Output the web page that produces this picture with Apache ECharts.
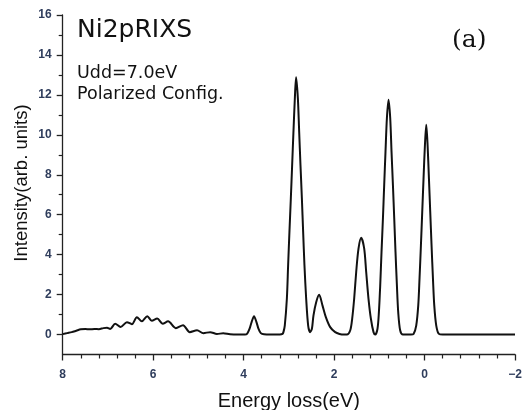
<!DOCTYPE html>
<html>
<head>
<meta charset="utf-8">
<script src="https://cdn.jsdelivr.net/npm/echarts@6/dist/echarts.min.js"></script>
<style>
html,body{margin:0;padding:0;background:#fff;}
#chart{width:525px;height:410px;}
</style>
</head>
<body>
<div id="chart"></div>
<script>
// Energy loss (eV)
var energyLoss = [
  8.00, 7.90, 7.80, 7.70, 7.60, 7.50, 7.40, 7.30, 7.20, 7.10, 7.02, 6.95,
  6.84, 6.72, 6.58, 6.47, 6.36, 6.25, 6.13, 6.03, 5.91, 5.79, 5.67, 5.50,
  5.34, 5.19, 5.03, 4.89, 4.74, 4.59, 4.45, 4.30, 4.10, 3.97,
  3.92, 3.87, 3.82, 3.77, 3.72, 3.67, 3.62, 3.55, 3.40, 3.20,
  3.14, 3.12, 3.09, 3.044, 3.016, 2.987, 2.956, 2.927, 2.898, 2.867, 2.84,
  2.801, 2.772, 2.743, 2.712, 2.684, 2.655, 2.617, 2.573, 2.53,
  2.49, 2.456, 2.396, 2.33, 2.257, 2.182, 2.086, 1.976, 1.88, 1.78,
  1.717, 1.644, 1.60, 1.556, 1.511, 1.46, 1.40, 1.334, 1.29, 1.239, 1.186, 1.128, 1.09,
  1.04, 1.009, 0.98, 0.951, 0.92, 0.892, 0.863, 0.832, 0.796,
  0.759, 0.73, 0.699, 0.67, 0.642, 0.611, 0.582, 0.538, 0.478,
  0.30, 0.243, 0.184, 0.139, 0.111, 0.08, 0.051, 0.022, -0.009, -0.038,
  -0.067, -0.097, -0.126, -0.155, -0.186, -0.215, -0.259, -0.318, -0.40, -2.00
];
// Intensity (arb. units)
var intensity = [
  0.02, 0.07, 0.12, 0.19, 0.26, 0.28, 0.26, 0.28, 0.27, 0.32, 0.34, 0.28,
  0.54, 0.38, 0.62, 0.52, 0.87, 0.66, 0.92, 0.69, 0.80, 0.54, 0.66, 0.32,
  0.47, 0.12, 0.21, 0.07, 0.12, 0.03, 0.06, 0.01, 0.00, 0.00,
  0.05, 0.28, 0.65, 0.92, 0.65, 0.28, 0.07, 0.01, 0.00, 0.00,
  0.03, 0.12, 0.45, 1.79, 3.47, 5.14, 6.82, 8.49, 10.17, 11.84, 12.88,
  11.84, 10.17, 8.49, 6.82, 5.14, 3.47, 1.79, 0.45, 0.12,
  0.29, 0.95, 1.62, 1.99, 1.46, 0.87, 0.37, 0.12, 0.03, 0.00,
  0.00, 0.20, 0.79, 1.79, 3.13, 4.30, 4.84, 4.30, 3.13, 1.79, 0.79, 0.12, 0.00,
  0.29, 1.12, 2.46, 4.14, 5.81, 7.49, 9.16, 10.84, 11.76,
  10.84, 9.16, 7.49, 5.81, 4.14, 2.46, 1.12, 0.20, 0.00,
  0.00, 0.03, 0.45, 1.46, 2.80, 4.47, 6.14, 7.82, 9.50, 10.50,
  9.50, 7.82, 6.14, 4.47, 2.80, 1.46, 0.45, 0.03, 0.00, 0.00
];
var yMajorTicks = [0, 2, 4, 6, 8, 10, 12, 14, 16];
var yMinorTicks = [1, 3, 5, 7, 9, 11, 13, 15];
var titleText = 'Ni2pRIXS';
var noteLines = ['Udd=7.0eV', 'Polarized Config.'];
var panelLabel = '(a)';
var xName = 'Energy loss(eV)';
var yName = 'Intensity(arb. units)';

var seriesData = energyLoss.map(function (e, i) { return [e, intensity[i]]; });
var tickColor = '#2f3d5c';
var labelFont = 'Liberation Sans';

var chart = echarts.init(document.getElementById('chart'), null, {renderer: 'canvas'});
chart.setOption({
  animation: false,
  backgroundColor: '#ffffff',
  grid: {left: 62.7, right: 10, top: 15, bottom: 55.5, containLabel: false, outerBoundsMode: 'none'},
  xAxis: {
    type: 'value', min: -2, max: 8, interval: 2, inverse: true,
    axisLine: {show: true, onZero: false, lineStyle: {color: '#222', width: 1.3}},
    axisTick: {show: true, inside: false, length: 6, lineStyle: {color: '#222', width: 1.3}},
    minorTick: {show: true, splitNumber: 5, length: 4, lineStyle: {color: '#222', width: 1.2}},
    splitLine: {show: false},
    axisLabel: {
      margin: 14, color: tickColor, fontSize: 12, fontWeight: 'bold', fontFamily: labelFont,
      formatter: function (v) { return v < 0 ? '\u2212' + (-v) : String(v); }
    },
    name: xName, nameLocation: 'middle', nameGap: 37,
    nameTextStyle: {fontSize: 20, color: '#111', fontFamily: labelFont}
  },
  yAxis: [{
    type: 'value', min: -1, max: 16, interval: 1,
    axisLine: {show: true, onZero: false, lineStyle: {color: '#222', width: 1.3}},
    axisTick: {show: true, inside: false, length: 6, customValues: yMajorTicks, lineStyle: {color: '#222', width: 1.3}},
    splitLine: {show: false},
    axisLabel: {margin: 11, color: tickColor, fontSize: 12, fontWeight: 'bold', fontFamily: labelFont, customValues: yMajorTicks}
  }, {
    type: 'value', min: -1, max: 16, interval: 1, position: 'left',
    axisLine: {show: false, onZero: false},
    axisTick: {show: true, inside: false, length: 4, customValues: yMinorTicks, lineStyle: {color: '#222', width: 1.2}},
    splitLine: {show: false},
    axisLabel: {show: false}
  }],
  series: [{
    type: 'line', data: seriesData, yAxisIndex: 0, showSymbol: false, symbol: 'none',
    lineStyle: {color: '#111', width: 2}, smooth: 0.3
  }],
  graphic: [
    {type: 'text', style: {x: 77, y: 30, text: titleText, font: '25px "DejaVu Sans"', fill: '#111', verticalAlign: 'middle'}},
    {type: 'text', style: {x: 77, y: 73, text: noteLines[0], font: '17.5px "DejaVu Sans"', fill: '#111', verticalAlign: 'middle'}},
    {type: 'text', style: {x: 77, y: 94, text: noteLines[1], font: '17.5px "DejaVu Sans"', fill: '#111', verticalAlign: 'middle'}},
    {type: 'text', style: {x: 452, y: 40, text: panelLabel, font: '25px "DejaVu Serif"', fill: '#111', verticalAlign: 'middle'}},
    {type: 'text', rotation: Math.PI / 2, x: 22, y: 183,
     style: {x: 0, y: 0, text: yName, font: '18.5px "Liberation Sans"', fill: '#111', align: 'center', verticalAlign: 'middle'}}
  ]
});
</script>
</body>
</html>
